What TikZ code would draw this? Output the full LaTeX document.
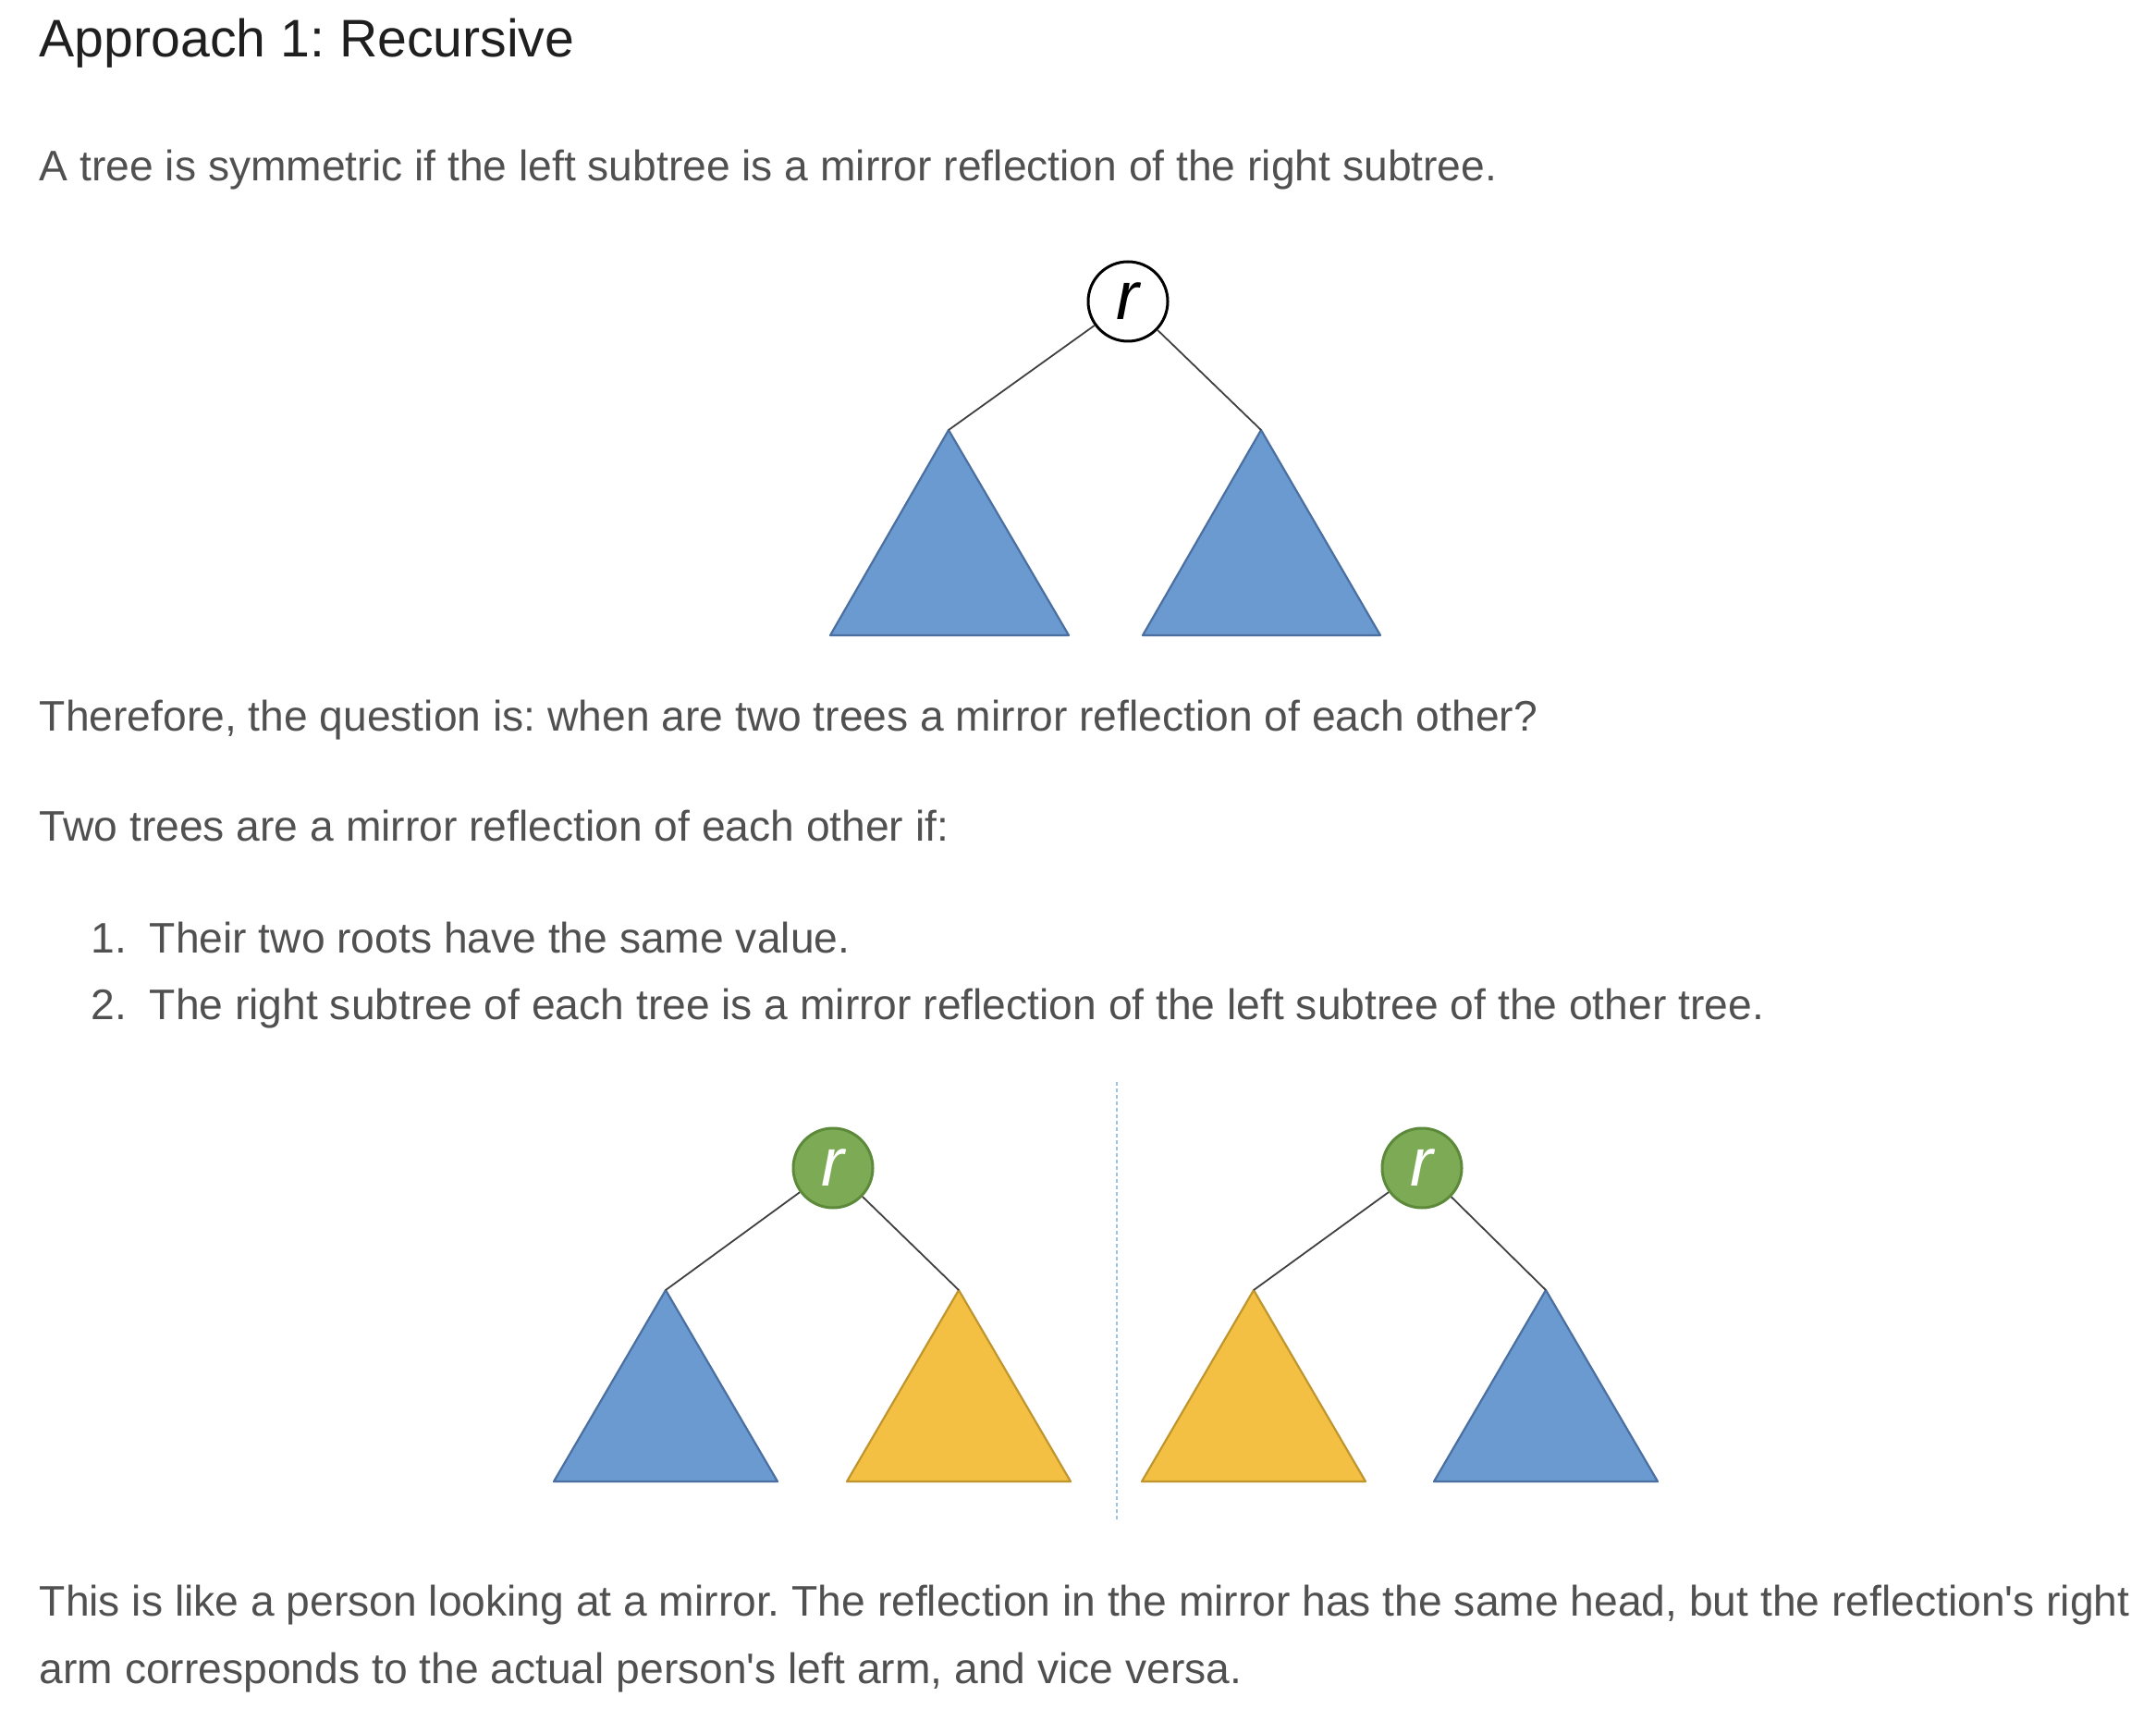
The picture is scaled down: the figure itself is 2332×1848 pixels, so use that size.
\documentclass[tikz,border=0pt]{standalone}
\usepackage{fontspec}
\setmainfont{Liberation Sans}
\frenchspacing
\definecolor{texte}{HTML}{505050}
\definecolor{titrecol}{HTML}{1F1F1F}
\definecolor{bleu}{HTML}{6A9ACF}
\definecolor{bleufonce}{HTML}{4A6FA0}
\definecolor{jaune}{HTML}{F4C043}
\definecolor{jaunefonce}{HTML}{BF952E}
\definecolor{vert}{HTML}{7DAB55}
\definecolor{vertfonce}{HTML}{5C8A3A}
\definecolor{miroircol}{HTML}{9DC3E6}
\begin{document}
\begin{tikzpicture}[x=0.25pt,y=-0.25pt]
\tikzset{
	ligne/.style={anchor=base west, inner sep=0pt, text=texte, font=\fontsize{11.55}{14}\selectfont},
	titre/.style={ligne, text=titrecol, font=\fontsize{14.3}{17}\selectfont},
	racine/.style={circle, draw=black, line width=0.75pt, minimum size=21.5pt, inner sep=0pt, font=\fontsize{18.5}{18.5}\selectfont\itshape},
	verte/.style={racine, fill=vert, draw=vertfonce, text=white},
	bleu/.style={fill=bleu, draw=bleufonce, line width=0.55pt, line join=round},
	jaune/.style={fill=jaune, draw=jaunefonce, line width=0.55pt, line join=round},
	arete/.style={draw=black!75, line width=0.45pt},
	miroir/.style={draw=miroircol, line width=0.4pt, dash pattern=on 1pt off 0.75pt}
}
\useasboundingbox (0,0) rectangle (2332,1848);

 % le texte
  \node[titre] (titre) at (42,62) {Approach 1: Recursive};
  \node[ligne] (l1) at (42,196) {A tree is symmetric if the left subtree is a mirror reflection of the right subtree.};
  \node[ligne] (l2) at (42,791) {Therefore, the question is: when are two trees a mirror reflection of each other?};
  \node[ligne] (l3) at (42,910) {Two trees are a mirror reflection of each other if:};
  \node[ligne] (n1) at (98,1031) {1.};
  \node[ligne] (t1) at (161,1031) {Their two roots have the same value.};
  \node[ligne] (n2) at (98,1102) {2.};
  \node[ligne] (t2) at (161,1102) {The right subtree of each tree is a mirror reflection of the left subtree of the other tree.};
  \node[ligne] (l6) at (42,1747) {This is like a person looking at a mirror. The reflection in the mirror has the same head, but the reflection\textquotesingle s right};
  \node[ligne] (l7) at (42,1820) {arm corresponds to the actual person\textquotesingle s left arm, and vice versa.};

 % l'arbre symétrique
  \node[racine] (r) at (1220,326) {r};
  \coordinate (g) at (1026,465);
  \coordinate (d) at (1364,465);
  \draw[bleu] (g) -- (898,687) -- (1156,687) -- cycle;
  \draw[bleu] (d) -- (1236,687) -- (1493,687) -- cycle;
  \draw[arete] (r) -- (g);
  \draw[arete] (r) -- (d);

 % les deux arbres de part et d'autre du miroir
  \coordinate (mh) at (1208,1170);
  \coordinate (mb) at (1208,1646);
  \draw[miroir] (mh) -- (mb);

  \node[verte] (r1) at (901,1263) {r};
  \coordinate (g1) at (720,1395);
  \coordinate (d1) at (1037,1395);
  \draw[bleu] (g1) -- (599,1602) -- (841,1602) -- cycle;
  \draw[jaune] (d1) -- (916,1602) -- (1158,1602) -- cycle;
  \draw[arete] (r1) -- (g1);
  \draw[arete] (r1) -- (d1);

  \node[verte] (r2) at (1538,1263) {r};
  \coordinate (g2) at (1356,1395);
  \coordinate (d2) at (1672,1395);
  \draw[jaune] (g2) -- (1235,1602) -- (1477,1602) -- cycle;
  \draw[bleu] (d2) -- (1551,1602) -- (1793,1602) -- cycle;
  \draw[arete] (r2) -- (g2);
  \draw[arete] (r2) -- (d2);
\end{tikzpicture}
\end{document}
